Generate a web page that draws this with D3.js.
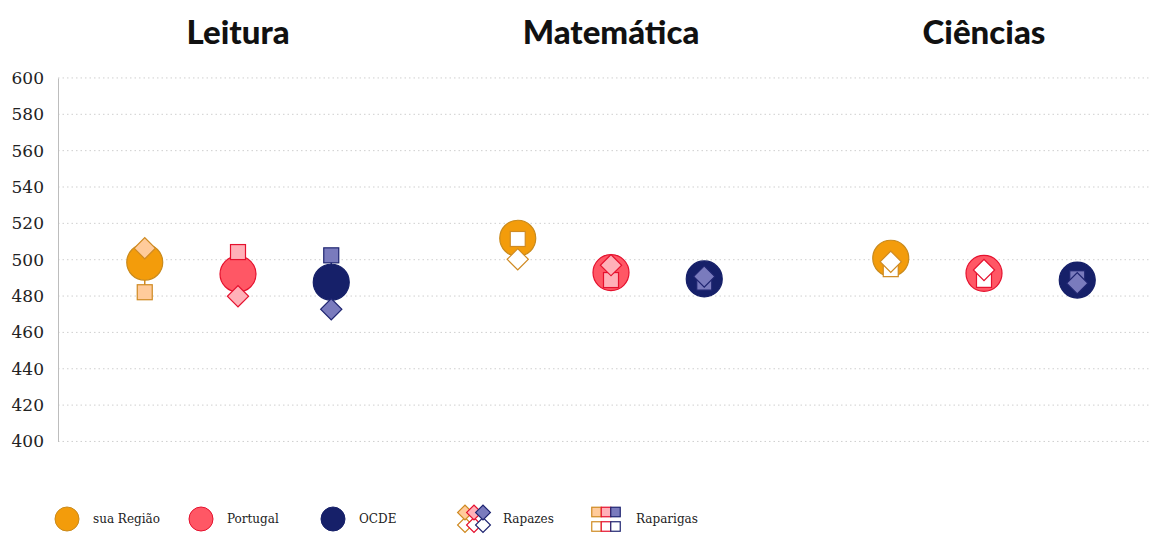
<!DOCTYPE html>
<html><head><meta charset="utf-8">
<script src="https://cdn.jsdelivr.net/npm/d3@7"></script>
<style>
html,body{margin:0;padding:0;background:#fff;}
svg{display:block;}
</style></head>
<body>
<svg id="chart" width="1154" height="534"></svg>
<script>
// ---- data ----
const subjects = ["Leitura", "Matemática", "Ciências"];
const groups = ["sua Região", "Portugal", "OCDE"];
// mean score per subject (rows) and group (columns)
const meanScores  = [[498.6, 492.1, 487.6], [511.8, 492.9, 489.4], [500.8, 492.5, 488.8]];
const boysScores  = [[506.3, 479.9, 472.7], [500.2, 497.0, 490.7], [498.9, 494.3, 487.0]];
const girlsScores = [[482.1, 504.2, 502.4], [511.4, 488.8, 487.4], [494.8, 488.9, 489.8]];
// whether the gender gap is flagged (filled marks) or not (white marks)
const gapFlag = [[true, true, true], [false, true, true], [false, false, true]];
const yTicks = [400, 420, 440, 460, 480, 500, 520, 540, 560, 580, 600];
const legendLabels = ["sua Região", "Portugal", "OCDE", "Rapazes", "Raparigas"];

// ---- styles ----
const mainFill   = ["#f39c0b", "#ff5765", "#162069"];
const mainStroke = ["#c98a1c", "#e5112e", "#162069"];
const lightFill  = ["#ffcb9b", "#ffb0b8", "#7a7bbd"];
const markStroke = ["#cf8a22", "#e5112e", "#1f2571"];

const svg = d3.select("#chart");
const y = d3.scaleLinear().domain([400, 600]).range([441.45, 77.95]);
const xAxisLeft = 58, xAxisRight = 1150;

const xSubject = d3.scaleBand().domain(subjects).range([51.5, 1170.5]).paddingInner(0).paddingOuter(0);
const xGroup = d3.scalePoint().domain(groups).range([0, xSubject.bandwidth()]).padding(1);

// gridlines
svg.append("g").selectAll("line").data(yTicks).join("line")
  .attr("x1", xAxisLeft).attr("x2", xAxisRight)
  .attr("y1", d => y(d)).attr("y2", d => y(d))
  .attr("stroke", "#cfcfcf").attr("stroke-width", 1).attr("stroke-dasharray", "1.5,3");

// y axis
const yAxis = d3.axisLeft(y).tickValues(yTicks).tickSize(0).tickPadding(14);
const ag = svg.append("g").attr("transform", `translate(${xAxisLeft},0)`).call(yAxis);
ag.select(".domain").attr("stroke", "#bdbdbd");
ag.selectAll("text").attr("font-family", "'DejaVu Serif', serif").attr("font-size", 17).attr("fill", "#222");

// titles
svg.append("g").selectAll("text").data(subjects).join("text")
  .attr("x", d => xSubject(d) + xSubject.bandwidth() / 2)
  .attr("y", 44)
  .attr("text-anchor", "middle")
  .attr("font-family", "Lato, sans-serif").attr("font-weight", 900).attr("font-size", 33)
  .attr("fill", "#111")
  .text(d => d);

const side = 15;
function diamond(g, cx, cy, s, fill, stroke) {
  g.append("rect").attr("x", -s / 2).attr("y", -s / 2).attr("width", s).attr("height", s)
    .attr("transform", `translate(${cx},${cy}) rotate(45)`)
    .attr("fill", fill).attr("stroke", stroke).attr("stroke-width", 1.2);
}
function square(g, cx, cy, s, fill, stroke) {
  g.append("rect").attr("x", cx - s / 2).attr("y", cy - s / 2).attr("width", s).attr("height", s)
    .attr("fill", fill).attr("stroke", stroke).attr("stroke-width", 1.2);
}

subjects.forEach((sub, si) => {
  groups.forEach((grp, gi) => {
    const cx = xSubject(sub) + xGroup(grp);
    const g = svg.append("g");
    const fill = gapFlag[si][gi] ? lightFill[gi] : "#ffffff";
    g.append("line").attr("x1", cx).attr("x2", cx)
      .attr("y1", y(boysScores[si][gi])).attr("y2", y(girlsScores[si][gi]))
      .attr("stroke", markStroke[gi]).attr("stroke-width", 1.5);
    g.append("circle").attr("cx", cx).attr("cy", y(meanScores[si][gi])).attr("r", 18)
      .attr("fill", mainFill[gi]).attr("stroke", mainStroke[gi]).attr("stroke-width", 1.2);
    square(g, cx, y(girlsScores[si][gi]), side, fill, markStroke[gi]);
    diamond(g, cx, y(boysScores[si][gi]), side, fill, markStroke[gi]);
  });
});

// legend
const leg = svg.append("g");
const legY = 519;
const circleX = [67, 201, 333];
groups.forEach((grp, gi) => {
  leg.append("circle").attr("cx", circleX[gi]).attr("cy", legY).attr("r", 12)
    .attr("fill", mainFill[gi]).attr("stroke", mainStroke[gi]).attr("stroke-width", 1);
  leg.append("text").attr("x", circleX[gi] + 26).attr("y", legY + 4)
    .attr("font-family", "'DejaVu Serif', serif").attr("font-size", 12).attr("fill", "#222")
    .text(legendLabels[gi]);
});
// Rapazes icon: filled row behind, white row
[0, 1, 2].forEach(gi => {
  diamond(leg, 465 + gi * 9, 525, 10.5, "#fff", markStroke[gi]);
});
[0, 1, 2].forEach(gi => {
  diamond(leg, 465 + gi * 9, 512.5, 10.5, lightFill[gi], markStroke[gi]);
});
leg.append("text").attr("x", 503).attr("y", legY + 4)
  .attr("font-family", "'DejaVu Serif', serif").attr("font-size", 12).attr("fill", "#222")
  .text(legendLabels[3]);
// Raparigas icon
[0, 1, 2].forEach(gi => {
  square(leg, 596.5 + gi * 9.5, 512, 9.5, lightFill[gi], markStroke[gi]);
});
[0, 1, 2].forEach(gi => {
  square(leg, 596.5 + gi * 9.5, 526.5, 9.5, "#fff", markStroke[gi]);
});
leg.append("text").attr("x", 636).attr("y", legY + 4)
  .attr("font-family", "'DejaVu Serif', serif").attr("font-size", 12).attr("fill", "#222")
  .text(legendLabels[4]);
</script>
</body></html>
